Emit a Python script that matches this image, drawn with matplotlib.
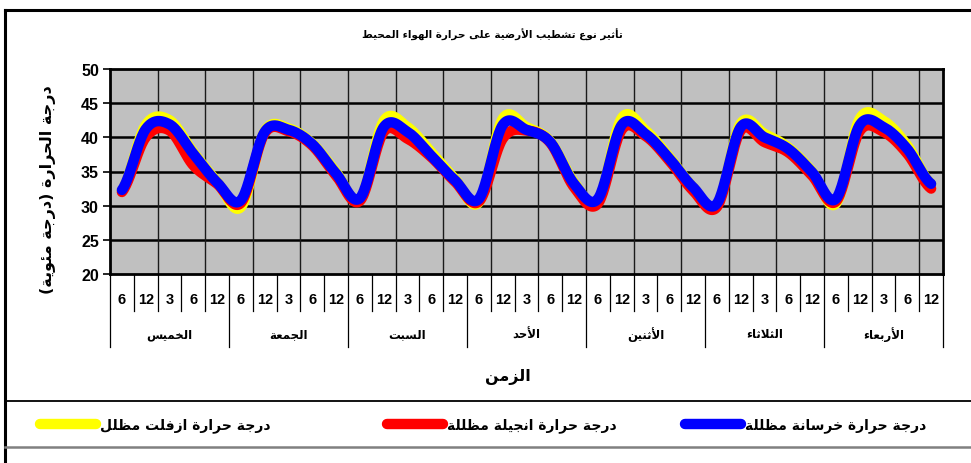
import numpy as np
import matplotlib
matplotlib.use("Agg")
import matplotlib.pyplot as plt
from matplotlib.lines import Line2D
import matplotlib.transforms as mtransforms

# ----- data -----
hours = ["6", "12", "3", "6", "12"]
days = ["الخميس", "الجمعة", "السبت", "الأحد", "الأثنين", "الثلاثاء", "الأربعاء"]

asphalt = [32.2, 41.8, 42.5, 37.8, 33.5,
           29.8, 40.9, 41.3, 39.1, 34.9,
           30.9, 42.4, 41.5, 37.8, 33.9,
           30.5, 42.7, 41.5, 39.4, 33.4,
           30.6, 42.8, 41.0, 37.1, 32.7,
           30.0, 42.0, 40.5, 38.5, 35.0,
           30.3, 42.7, 42.4, 38.8, 33.2]
tiles = [32.0, 40.0, 41.0, 35.9, 33.2,
         30.4, 40.6, 40.9, 38.8, 34.4,
         30.7, 40.8, 39.8, 37.1, 33.5,
         30.6, 39.8, 41.0, 39.2, 32.7,
         30.3, 41.1, 40.2, 36.6, 32.2,
         29.8, 41.0, 39.3, 37.8, 34.4,
         30.6, 40.9, 40.8, 37.6, 32.5]
concrete = [32.3, 41.2, 41.9, 37.6, 33.4,
            30.8, 40.8, 41.1, 39.0, 34.7,
            31.1, 41.5, 40.8, 37.3, 33.7,
            31.0, 41.8, 41.1, 39.3, 33.2,
            31.0, 41.8, 40.5, 36.9, 32.7,
            30.3, 41.5, 40.0, 38.3, 34.9,
            31.0, 41.8, 41.5, 38.3, 33.2]

series_names = ["درجة حرارة ازفلت مظلل", "درجة حرارة انجيلة مظللة", "درجة حرارة خرسانة مظللة"]
series_colors = ["#FFFF00", "#FF0000", "#0000FF"]

title = "تأثير نوع تشطيب الأرضية على حرارة الهواء المحيط"
ylabel = "درجة الحرارة (درجة مئوية)"
xlabel = "الزمن"

# ----- simple arabic shaping (matplotlib has no bidi / joining) -----
AR = {'ء': (0xFE80, 1), 'آ': (0xFE81, 2), 'أ': (0xFE83, 2), 'ؤ': (0xFE85, 2),
      'إ': (0xFE87, 2), 'ئ': (0xFE89, 4), 'ا': (0xFE8D, 2), 'ب': (0xFE8F, 4),
      'ة': (0xFE93, 2), 'ت': (0xFE95, 4), 'ث': (0xFE99, 4), 'ج': (0xFE9D, 4),
      'ح': (0xFEA1, 4), 'خ': (0xFEA5, 4), 'د': (0xFEA9, 2), 'ذ': (0xFEAB, 2),
      'ر': (0xFEAD, 2), 'ز': (0xFEAF, 2), 'س': (0xFEB1, 4), 'ش': (0xFEB5, 4),
      'ص': (0xFEB9, 4), 'ض': (0xFEBD, 4), 'ط': (0xFEC1, 4), 'ظ': (0xFEC5, 4),
      'ع': (0xFEC9, 4), 'غ': (0xFECD, 4), 'ف': (0xFED1, 4), 'ق': (0xFED5, 4),
      'ك': (0xFED9, 4), 'ل': (0xFEDD, 4), 'م': (0xFEE1, 4), 'ن': (0xFEE5, 4),
      'ه': (0xFEE9, 4), 'و': (0xFEED, 2), 'ى': (0xFEEF, 2), 'ي': (0xFEF1, 4)}
LAMALEF = {'آ': 0xFEF5, 'أ': 0xFEF7, 'إ': 0xFEF9, 'ا': 0xFEFB}


def ar(text):
    out = []
    i = 0
    n = len(text)
    while i < n:
        c = text[i]
        prev = text[i - 1] if i > 0 else ''
        link_prev = prev in AR and AR[prev][1] == 4
        if c == 'ل' and i + 1 < n and text[i + 1] in LAMALEF:
            base = LAMALEF[text[i + 1]]
            out.append(chr(base + 1 if link_prev else base))
            i += 2
            continue
        if c not in AR:
            out.append(c)
            i += 1
            continue
        base, k = AR[c]
        nxt = text[i + 1] if i + 1 < n else ''
        if k == 1:
            f = base
        else:
            link_next = k == 4 and nxt in AR
            if link_prev and link_next:
                f = base + 3
            elif link_prev:
                f = base + 1
            elif link_next:
                f = base + 2
            else:
                f = base
        out.append(chr(f))
        i += 1
    s = ''.join(out)[::-1]
    return s.translate(str.maketrans("()", ")("))


def smooth(y, steps=24):
    # catmull-rom through the points, like excel's smoothed line
    y = np.asarray(y, float)
    x = np.arange(len(y), dtype=float)
    p = np.concatenate([[y[0]], y, [y[-1]]])
    px = np.concatenate([[x[0] - 1], x, [x[-1] + 1]])
    xs, ys = [], []
    t = np.linspace(0, 1, steps, endpoint=False)
    for i in range(1, len(p) - 2):
        for arr, out in ((px, xs), (p, ys)):
            p0, p1, p2, p3 = arr[i - 1], arr[i], arr[i + 1], arr[i + 2]
            out.extend(0.5 * (2 * p1 + (-p0 + p2) * t + (2 * p0 - 5 * p1 + 4 * p2 - p3) * t ** 2
                              + (-p0 + 3 * p1 - 3 * p2 + p3) * t ** 3))
    xs.append(x[-1])
    ys.append(y[-1])
    return np.array(xs), np.array(ys)


W, H = 971, 464
fig = plt.figure(figsize=(W / 100, H / 100), dpi=100)
fig.patch.set_facecolor("white")


def fx(x):
    return x / W


def fy(y):
    return 1 - y / H


ax = fig.add_axes([fx(110), fy(275), (943 - 110) / W, (275 - 70) / H])
ax.set_facecolor("#C0C0C0")
ax.set_xlim(-0.5, 34.5)
ax.set_ylim(20, 50)

ax.set_yticks(np.arange(20, 51, 5))
for yv in range(25, 50, 5):
    ax.axhline(yv, color="black", lw=1.8, zorder=1)
for xv in np.arange(1.5, 34, 2):
    ax.axvline(xv, color="#1a1a1a", lw=1.0, zorder=1)

for vals, col in zip([asphalt, tiles, concrete], series_colors):
    sx, sy = smooth(vals)
    ax.plot(sx, sy, color=col, lw=7.5, solid_capstyle="round",
            solid_joinstyle="round", zorder=3)

for s in ax.spines.values():
    s.set_color("black")
    s.set_linewidth(2.0)
    s.set_zorder(4)

num_font = ["Liberation Sans", "DejaVu Sans"]
ax.set_xticks([])
ax.tick_params(axis="y", length=5, width=1.2, pad=3, labelsize=11.5)
for lab in ax.get_yticklabels():
    lab.set_fontfamily(num_font)
    lab.set_fontweight("bold")

# multi level category axis
trans = mtransforms.blended_transform_factory(ax.transData, ax.transAxes)
ah = 275 - 70
for b in range(36):
    xb = b - 0.5
    low = -73 / ah if b % 5 == 0 else -37 / ah
    ax.add_line(Line2D([xb, xb], [0, low], transform=trans, color="black",
                       lw=0.9, clip_on=False))
for i in range(35):
    ax.text(i, -25 / ah, hours[i % 5], transform=trans, ha="center", va="center",
            fontsize=10.5, fontweight="bold", family=num_font)
for d, name in enumerate(days):
    ax.text(d * 5 + 2, -60 / ah, ar(name), transform=trans, ha="center", va="center",
            fontsize=8.5, fontweight="bold", family=["DejaVu Sans"])

# titles
fig.text(fx(492), fy(35), ar(title), ha="center", va="center", fontsize=7.5,
         fontweight="bold", family=["DejaVu Sans"])
fig.text(fx(508), fy(377), ar(xlabel), ha="center", va="center", fontsize=11.5,
         fontweight="bold", family=["DejaVu Sans"])
fig.text(fx(48), fy(190), ar(ylabel), ha="center", va="center", rotation=90,
         fontsize=11.5, fontweight="bold", family=["DejaVu Sans"])

# chart frame and legend box
fig.add_artist(Line2D([fx(5), fx(5)], [fy(11), fy(470)], color="black", lw=2.2))
fig.add_artist(Line2D([fx(5), fx(975)], [fy(11), fy(11)], color="black", lw=2.2))
fig.add_artist(Line2D([fx(5), fx(975)], [fy(402), fy(402)], color="black", lw=1.3))
fig.add_artist(Line2D([fx(5), fx(975)], [fy(448), fy(448)], color="#808080", lw=1.8))

leg_x = [40, 387, 685]
for x0, name, col in zip(leg_x, series_names, series_colors):
    fig.add_artist(Line2D([fx(x0), fx(x0 + 56)], [fy(425), fy(425)], color=col,
                          lw=7.5, solid_capstyle="round"))
    fig.text(fx(x0 + 60), fy(426), ar(name), ha="left", va="center", fontsize=10,
             fontweight="bold", family=["DejaVu Sans"])

fig.savefig("out.png", dpi=100)
